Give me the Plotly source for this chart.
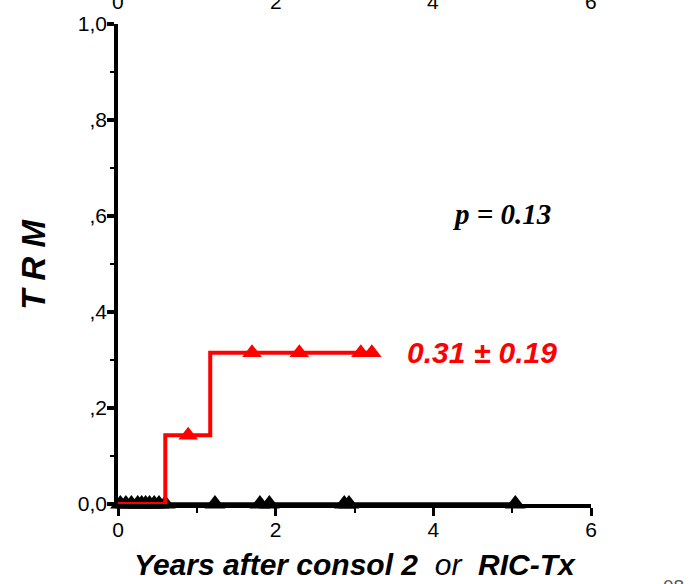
import plotly.graph_objects as go

# Cumulative incidence of transplant-related mortality (TRM)
red_step_x = [0.0, 0.6, 1.17, 3.26]
red_step_y = [0.0, 0.143, 0.315, 0.315]
red_cens_x = [0.89, 1.70, 2.30, 3.08, 3.22]
red_cens_y = [0.143, 0.315, 0.315, 0.315, 0.315]

black_line_x = [0.0, 5.04]
black_line_y = [0.0, 0.0]
black_cens_x = [0.03, 0.10, 0.17, 0.25, 0.30, 0.35, 0.40, 0.46, 0.52, 0.60,
                1.23, 1.80, 1.92, 2.87, 2.93, 5.04]
black_cens_y = [0.0] * len(black_cens_x)

y_tickvals = [0.0, 0.2, 0.4, 0.6, 0.8, 1.0]
y_ticktext = ["0,0", ",2", ",4", ",6", ",8", "1,0"]
x_tickvals = [0, 2, 4, 6]

p_text = "p = 0.13"
red_label = "0.31 ± 0.19"

fig = go.Figure()

fig.add_trace(go.Scatter(
    x=black_line_x, y=black_line_y, mode="lines",
    line=dict(color="black", width=3.5), cliponaxis=False, hoverinfo="skip"))
fig.add_trace(go.Scatter(
    x=black_cens_x, y=black_cens_y, mode="markers",
    marker=dict(symbol="triangle-up", size=18, color="black", line=dict(width=0)),
    cliponaxis=False))
fig.add_trace(go.Scatter(
    x=red_step_x, y=red_step_y, mode="lines", line_shape="hv",
    line=dict(color="#ff0000", width=4), cliponaxis=False))
fig.add_trace(go.Scatter(
    x=red_cens_x, y=red_cens_y, mode="markers",
    marker=dict(symbol="triangle-up", size=17, color="#ff0000", line=dict(width=0)),
    cliponaxis=False))

font_sans = "Liberation Sans, Arial, sans-serif"

fig.update_layout(
    width=693, height=584,
    margin=dict(l=118, r=102, t=19, b=80),
    paper_bgcolor="white", plot_bgcolor="white",
    showlegend=False,
    font=dict(family=font_sans, color="black", size=21),
    xaxis=dict(
        range=[0, 6], tickvals=x_tickvals, ticks="outside",
        ticklen=8, tickwidth=3, tickcolor="black",
        showline=True, linewidth=3.5, linecolor="black",
        showgrid=False, zeroline=False, ticklabelstandoff=-4,
        minor=dict(dtick=1, ticks="outside", ticklen=5, tickwidth=2, tickcolor="black"),
        tickfont=dict(size=21),
    ),
    yaxis=dict(
        range=[0, 1], tickvals=y_tickvals, ticktext=y_ticktext, ticks="outside",
        ticklen=7, tickwidth=3.5, tickcolor="black",
        showline=True, linewidth=3.5, linecolor="black",
        showgrid=False, zeroline=False, ticklabelstandoff=-4,
        minor=dict(dtick=0.1, ticks="outside", ticklen=4, tickwidth=2, tickcolor="black"),
        tickfont=dict(size=21),
    ),
)

annotations = []
# tick labels of the panel above, cut by the page edge
for v in x_tickvals:
    annotations.append(dict(
        x=v, y=1, xref="x", yref="paper", text=str(v), showarrow=False,
        yanchor="middle", yshift=23, font=dict(size=21, family=font_sans)))

annotations += [
    dict(x=-0.18, y=0.5, xref="paper", yref="paper", xanchor="center",
         text="<b><i>T R M</i></b>", textangle=-90, showarrow=False,
         font=dict(size=33, family=font_sans)),
    dict(x=0.5, y=0, xref="paper", yref="paper", yanchor="middle", yshift=-60,
         text="<b><i>Years after consol 2</i></b>  <i>or</i>  <b><i>RIC-Tx</i></b>",
         showarrow=False, font=dict(size=30, family=font_sans)),
    dict(x=4.86, y=0.605, xref="x", yref="y", text="<b><i>" + p_text + "</i></b>",
         showarrow=False, font=dict(size=29, family="Liberation Serif, Times New Roman, serif")),
    dict(x=4.62, y=0.315, xref="x", yref="y", text="<b><i>" + red_label + "</i></b>",
         showarrow=False, font=dict(size=30, family=font_sans, color="#ff0000")),
    dict(x=1, y=0, xref="paper", yref="paper", xanchor="left", yanchor="top",
         xshift=70, yshift=-70, text="08", showarrow=False,
         font=dict(size=19, family=font_sans, color="#555555")),
]
fig.update_layout(annotations=annotations)

fig.write_html("out.html")
